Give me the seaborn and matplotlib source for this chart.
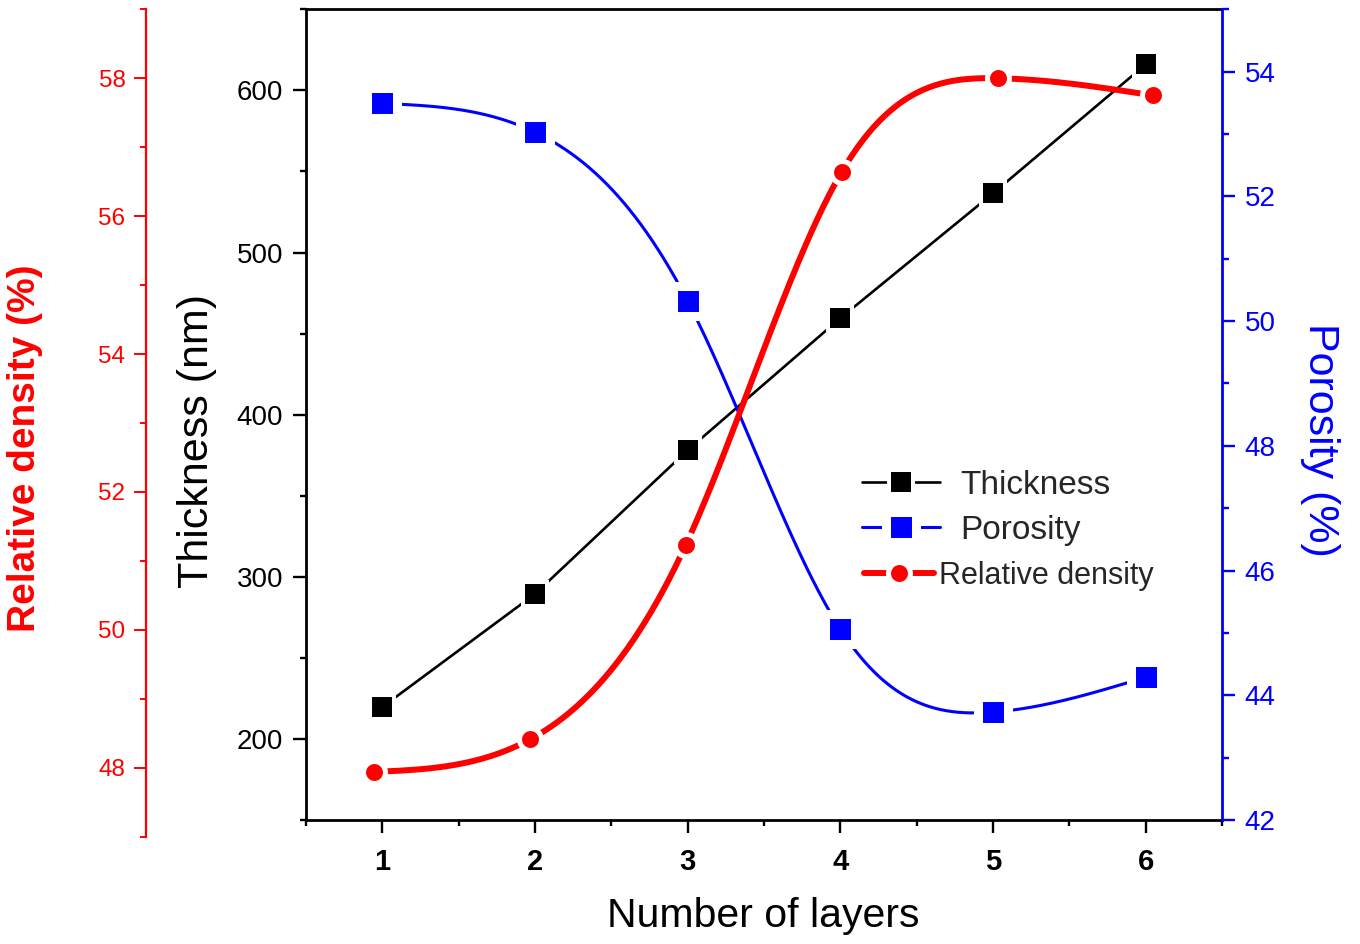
import numpy as np
import matplotlib
matplotlib.use("Agg")
import matplotlib.pyplot as plt
import seaborn as sns
from matplotlib.ticker import MultipleLocator
from matplotlib.lines import Line2D

# ---- data ----
layers = [1, 2, 3, 4, 5, 6]
layer_labels = ["1", "2", "3", "4", "5", "6"]
thickness = [219.7, 289.4, 378.1, 459.5, 536.5, 616.0]
porosity = [53.49, 53.03, 50.32, 45.06, 43.73, 44.29]
rel_density = [47.94, 48.41, 51.23, 56.64, 58.00, 57.75]
series_names = ["Thickness", "Porosity", "Relative density"]


def natural_spline(x, y, n=400):
    """Smooth connecting curve (Origin-style spline line) through the points."""
    x = np.asarray(x, float)
    y = np.asarray(y, float)
    m = len(x)
    h = np.diff(x)
    A = np.zeros((m, m))
    b = np.zeros(m)
    A[0, 0] = A[-1, -1] = 1
    for i in range(1, m - 1):
        A[i, i - 1] = h[i - 1]
        A[i, i] = 2 * (h[i - 1] + h[i])
        A[i, i + 1] = h[i]
        b[i] = 3 * ((y[i + 1] - y[i]) / h[i] - (y[i] - y[i - 1]) / h[i - 1])
    c = np.linalg.solve(A, b)
    xs = np.linspace(x[0], x[-1], n)
    idx = np.clip(np.searchsorted(x, xs) - 1, 0, m - 2)
    dx = xs - x[idx]
    bb = (y[1:] - y[:-1]) / h - h * (2 * c[:-1] + c[1:]) / 3
    d = (c[1:] - c[:-1]) / (3 * h)
    ys = y[idx] + bb[idx] * dx + c[idx] * dx ** 2 + d[idx] * dx ** 3
    return xs, ys


sns.set_theme(style="ticks")
plt.rcParams["font.family"] = ["Liberation Sans", "DejaVu Sans"]

fig = plt.figure(figsize=(13.6, 9.44), dpi=100)
L, W = 306 / 1360, 916 / 1360
ax = fig.add_axes([L, 124 / 944, W, 810.7 / 944])
ax_p = ax.twinx()
ax_r = fig.add_axes([L, (944 - 836.7) / 944, W, 827.4 / 944])
ax_r.patch.set_visible(False)

# ---- Thickness (straight segments) ----
sns.lineplot(x=layers, y=thickness, ax=ax, color="black", linewidth=1.9,
             marker="s", markersize=17.8, markerfacecolor="black",
             markeredgecolor="white", markeredgewidth=2.9)

# ---- Porosity (spline) ----
px, py = natural_spline(layers, porosity)
sns.lineplot(x=px, y=py, ax=ax_p, color="blue", linewidth=2.2, sort=False)
sns.scatterplot(x=layers, y=porosity, ax=ax_p, marker="s", s=21.6 ** 2,
                color="blue", edgecolor="white", linewidth=6.5, zorder=3)

# ---- Relative density (spline, own layer) ----
rx, ry = natural_spline(layers, rel_density)
sns.lineplot(x=rx, y=ry, ax=ax_r, color="red", linewidth=4.3, sort=False)
sns.scatterplot(x=layers, y=rel_density, ax=ax_r, marker="o", s=15.8 ** 2,
                color="red", edgecolor="white", linewidth=3.6, zorder=3)

# ---- main axes ----
ax.set_xlim(0.5, 6.5)
ax.set_ylim(150, 650)
ax.set_xticks(layers)
ax.set_xticklabels(layer_labels, fontweight="bold", fontsize=21)
ax.xaxis.set_minor_locator(MultipleLocator(0.5))
ax.yaxis.set_major_locator(MultipleLocator(100))
ax.yaxis.set_minor_locator(MultipleLocator(50))
ax.tick_params(axis="both", which="major", direction="out", length=9.4,
               width=1.7, color="black", labelsize=20, labelcolor="black")
ax.tick_params(axis="x", which="major", labelsize=21)
ax.tick_params(axis="y", which="major", pad=7)
ax.tick_params(axis="x", which="major", pad=11)
ax.tick_params(axis="both", which="minor", direction="out", length=4.0,
               width=1.7, color="black")
ax.tick_params(axis="x", which="both", top=False)
ax.tick_params(axis="y", which="both", right=False)
for s in ["left", "bottom", "top"]:
    ax.spines[s].set_color("black")
    ax.spines[s].set_linewidth(2.0)
ax.spines["right"].set_visible(False)
ax.set_xlabel("Number of layers", fontsize=29.5, color="black", va="center", ha="center")
ax.set_ylabel("Thickness (nm)", fontsize=31, color="black", va="center", ha="center")
ax.xaxis.set_label_coords(0.499, (820 - 916) / 810.7)
ax.yaxis.set_label_coords(-0.119, 0.4675)

# ---- porosity axis (right, blue) ----
ax_p.set_ylim(42, 55)
ax_p.yaxis.set_major_locator(MultipleLocator(2))
ax_p.yaxis.set_minor_locator(MultipleLocator(1))
for s in ["left", "bottom", "top"]:
    ax_p.spines[s].set_visible(False)
ax_p.spines["right"].set_color("blue")
ax_p.spines["right"].set_linewidth(2.0)
ax_p.tick_params(axis="y", which="major", direction="out", length=9.4, width=1.7,
                 color="blue", labelcolor="blue", labelsize=20, pad=7)
ax_p.tick_params(axis="y", which="minor", direction="out", length=5.0, width=1.7,
                 color="blue")
ax_p.set_ylabel("Porosity (%)", fontsize=31, color="blue", rotation=270,
                va="center", ha="center")
ax_p.yaxis.set_label_coords(1.107, 0.469)

# ---- relative density axis (far left, red) ----
ax_r.set_xlim(0.564, 6.44)
ax_r.set_ylim(47, 59)
ax_r.xaxis.set_visible(False)
for s in ["right", "bottom", "top"]:
    ax_r.spines[s].set_visible(False)
ax_r.spines["left"].set_position(("axes", (145.7 - 306) / 916))
ax_r.spines["left"].set_color("red")
ax_r.spines["left"].set_linewidth(1.6)
ax_r.yaxis.set_major_locator(MultipleLocator(2))
ax_r.yaxis.set_minor_locator(MultipleLocator(1))
ax_r.tick_params(axis="y", which="major", direction="out", length=8.6, width=1.4,
                 color="red", labelcolor="red", labelsize=17.5, pad=6)
ax_r.tick_params(axis="y", which="minor", direction="out", length=4.3, width=1.4,
                 color="red")
ax_r.set_ylabel("Relative density (%)", fontsize=28, color="red", fontweight="bold",
                va="center", ha="center")
ax_r.yaxis.set_label_coords((25 - 306) / 916, (836.7 - 448) / 827.4)

# ---- legend (two blocks, as in the original layered figure) ----
handles = [
    Line2D([], [], color="black", lw=1.9, marker="s", ms=17.8, mfc="black",
           mec="white", mew=2.9),
    Line2D([], [], color="blue", lw=2.2, marker="s", ms=21.6, mfc="blue",
           mec="white", mew=6.5),
    Line2D([], [], color="red", lw=4.3, marker="o", ms=15.8, mfc="red",
           mec="white", mew=3.6),
]
leg1 = ax_r.legend(handles[:2], series_names[:2], loc="center left",
                   bbox_to_anchor=(862 / 1360, (944 - 507.5) / 944),
                   bbox_transform=fig.transFigure, frameon=False, borderpad=0,
                   borderaxespad=0, handlelength=2.34, handletextpad=0.6,
                   labelspacing=0.42, fontsize=24, numpoints=1)
ax_r.add_artist(leg1)
leg2 = ax_r.legend(handles[2:], series_names[2:], loc="center left",
                   bbox_to_anchor=(864 / 1360, (944 - 576) / 944),
                   bbox_transform=fig.transFigure, frameon=False, borderpad=0,
                   borderaxespad=0, handlelength=2.3, handletextpad=0.17,
                   fontsize=22, numpoints=1)

fig.savefig("out.png", dpi=100)
